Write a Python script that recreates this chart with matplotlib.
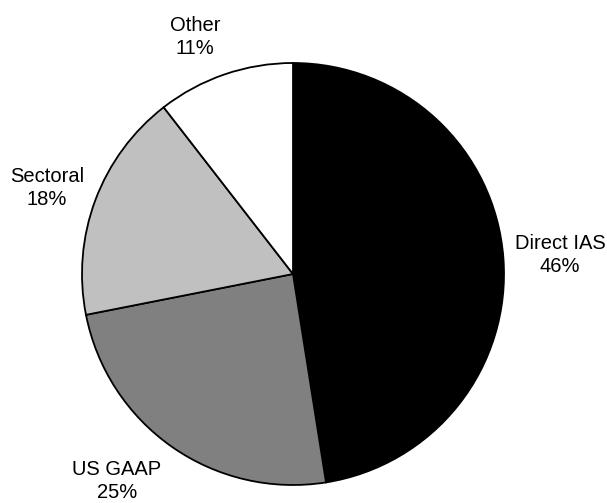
import matplotlib
matplotlib.use("Agg")
import matplotlib.pyplot as plt

# ---------------- DATA ----------------
labels = ["Direct IAS", "US GAAP", "Sectoral", "Other"]
pct_labels = [46, 25, 18, 11]          # percentages printed on the chart
shares = [47.5, 24.4, 17.6, 10.5]      # wedge sizes as drawn
colors = ["#000000", "#808080", "#c0c0c0", "#ffffff"]

plt.rcParams["font.family"] = ["Liberation Sans", "DejaVu Sans"]

W, H = 607, 503
cx, cy, r = 293, 274, 211  # pie centre / radius in pixels (from top-left)

fig = plt.figure(figsize=(W / 100, H / 100), dpi=100)
ax = fig.add_axes([0, 0, 1, 1])

ax.pie(shares, colors=colors, startangle=90, counterclock=False,
       wedgeprops=dict(edgecolor="black", linewidth=1.3))

# map pixel frame onto data units (1 unit = radius)
ax.set_xlim(-cx / r, (W - cx) / r)
ax.set_ylim(-(H - cy) / r, cy / r)
ax.set_aspect("auto")
ax.axis("off")

# label block centres in pixels, Excel style outside placement
label_px = [(560, 255), (117, 481), (47, 188), (195, 37)]
for name, val, (px, py) in zip(labels, pct_labels, label_px):
    ax.text((px - cx) / r, (cy - py) / r, f"{name}\n{val}%",
            ha="center", va="center", fontsize=14.5, linespacing=1.3)

fig.savefig("out.png", dpi=100)
